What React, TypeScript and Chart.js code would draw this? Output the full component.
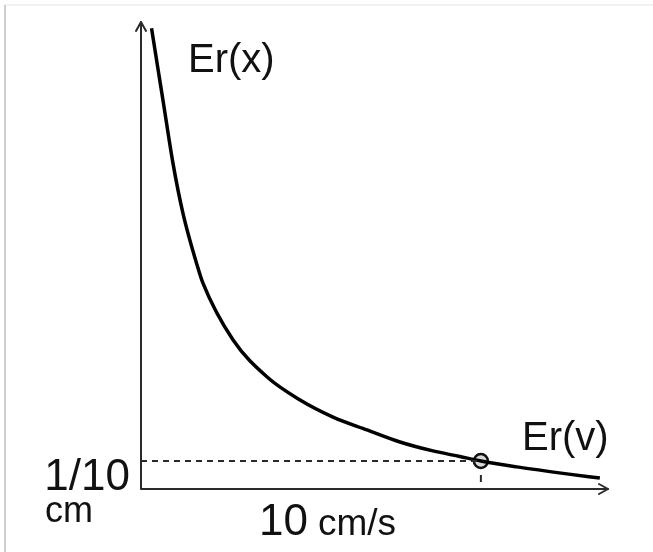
import React, { useEffect, useRef } from "react";
import { Chart, registerables } from "chart.js";

Chart.register(...registerables);

// Curve Er: speed (cm/s) vs error (cm)
const curveX = [0.31, 0.5, 0.65, 0.94, 1.24, 1.65, 1.82, 2.71, 3.71, 4.68, 5.65, 6.65, 7.62, 8.59, 9.38, 10, 11.06, 12.53, 13.5];
const curveY = [1.646, 1.5, 1.386, 1.164, 0.982, 0.8, 0.736, 0.532, 0.4, 0.318, 0.257, 0.211, 0.168, 0.136, 0.116, 0.1, 0.079, 0.054, 0.039];

// Marked point
const markX = [10];
const markY = [0.1];

// Axis ranges
const xRange = [0, 13.74];
const yRange = [0, 1.668];

// Labels
const yTickLabel = ["1/10", "cm"];
const xTickLabel = ["10", "cm/s"];
const curveLabels = ["Er(x)", "Er(v)"];

const FONT = '"Liberation Sans", Arial, sans-serif';

const drawPlugin = {
  id: "sketchDecor",
  beforeDraw(chart: any) {
    const ctx = chart.ctx;
    ctx.save();
    ctx.fillStyle = "#ffffff";
    ctx.fillRect(0, 0, chart.width, chart.height);
    // frame edges
    ctx.strokeStyle = "#ececec";
    ctx.lineWidth = 1.5;
    ctx.beginPath();
    ctx.moveTo(5, 5);
    ctx.lineTo(chart.width, 5);
    ctx.stroke();
    ctx.strokeStyle = "#cfcfcf";
    ctx.lineWidth = 2;
    ctx.beginPath();
    ctx.moveTo(5, 5);
    ctx.lineTo(5, chart.height);
    ctx.stroke();
    ctx.restore();
  },
  afterDatasetsDraw(chart: any) {
    const ctx = chart.ctx;
    const xs = chart.scales.x;
    const ys = chart.scales.y;
    const x0 = xs.getPixelForValue(0);
    const y0 = ys.getPixelForValue(0);
    const top = chart.chartArea.top;
    const right = chart.chartArea.right;
    ctx.save();
    ctx.strokeStyle = "#2a2a2a";
    ctx.lineWidth = 2;
    ctx.lineCap = "round";
    ctx.lineJoin = "round";
    // axes
    ctx.beginPath();
    ctx.moveTo(x0, top);
    ctx.lineTo(x0, y0);
    ctx.lineTo(right, y0);
    ctx.stroke();
    // arrowheads
    ctx.beginPath();
    ctx.moveTo(x0 - 5, top + 9);
    ctx.lineTo(x0, top);
    ctx.lineTo(x0 + 5, top + 9);
    ctx.moveTo(right - 9, y0 - 5);
    ctx.lineTo(right, y0);
    ctx.lineTo(right - 9, y0 + 5);
    ctx.stroke();

    // texts
    ctx.fillStyle = "#111111";
    ctx.textBaseline = "alphabetic";
    ctx.font = `44px ${FONT}`;
    ctx.textAlign = "right";
    ctx.fillText(yTickLabel[0], x0 - 11, y0 + 1);
    ctx.textAlign = "left";
    ctx.font = `36px ${FONT}`;
    ctx.fillText(yTickLabel[1], 45, y0 + 33);
    ctx.font = `44px ${FONT}`;
    ctx.fillText(xTickLabel[0], 259, y0 + 46);
    ctx.font = `37px ${FONT}`;
    ctx.fillText(xTickLabel[1], 318, y0 + 46);
    ctx.font = `40px ${FONT}`;
    ctx.fillText(curveLabels[0], 188, 72);
    ctx.fillText(curveLabels[1], 522, 450);
    ctx.restore();
  },
};

export default function App() {
  const ref = useRef<HTMLCanvasElement | null>(null);
  useEffect(() => {
    if (!ref.current) return;
    const curve = curveX.map((x, i) => ({ x, y: curveY[i] }));
    const mark = markX.map((x, i) => ({ x, y: markY[i] }));
    const chart = new Chart(ref.current, {
      type: "scatter",
      data: {
        datasets: [
          {
            type: "line",
            data: [
              { x: 0, y: markY[0] },
              { x: markX[0], y: markY[0] },
            ],
            borderColor: "#2a2a2a",
            borderWidth: 2.2,
            borderDash: [6, 5],
            pointRadius: 0,
            showLine: true,
            fill: false,
          } as any,
          {
            type: "line",
            data: [
              { x: markX[0], y: markY[0] * 0.5 },
              { x: markX[0], y: markY[0] * 0.25 },
            ],
            borderColor: "#2a2a2a",
            borderWidth: 2,
            pointRadius: 0,
            showLine: true,
            fill: false,
          } as any,
          {
            type: "line",
            data: curve,
            borderColor: "#000000",
            borderWidth: 3.5,
            pointRadius: 0,
            cubicInterpolationMode: "monotone",
            showLine: true,
            fill: false,
            clip: false,
          } as any,
          {
            type: "scatter",
            data: mark,
            pointRadius: 7,
            pointBackgroundColor: "#d9d9d9",
            pointBorderColor: "#111111",
            pointBorderWidth: 2.5,
          } as any,
        ],
      },
      options: {
        responsive: false,
        animation: false,
        devicePixelRatio: 1,
        layout: { padding: { left: 141, right: 45, top: 22, bottom: 63 } },
        plugins: { legend: { display: false }, tooltip: { enabled: false }, title: { display: false } },
        scales: {
          x: { type: "linear", min: xRange[0], max: xRange[1], display: false },
          y: { type: "linear", min: yRange[0], max: yRange[1], display: false },
        },
      },
      plugins: [drawPlugin],
    });
    return () => chart.destroy();
  }, []);
  return (
    <div style={{ position: "fixed", left: 0, top: 0, width: 653, height: 552, background: "#fff" }}>
      <canvas ref={ref} width={653} height={552} style={{ display: "block" }} />
    </div>
  );
}
